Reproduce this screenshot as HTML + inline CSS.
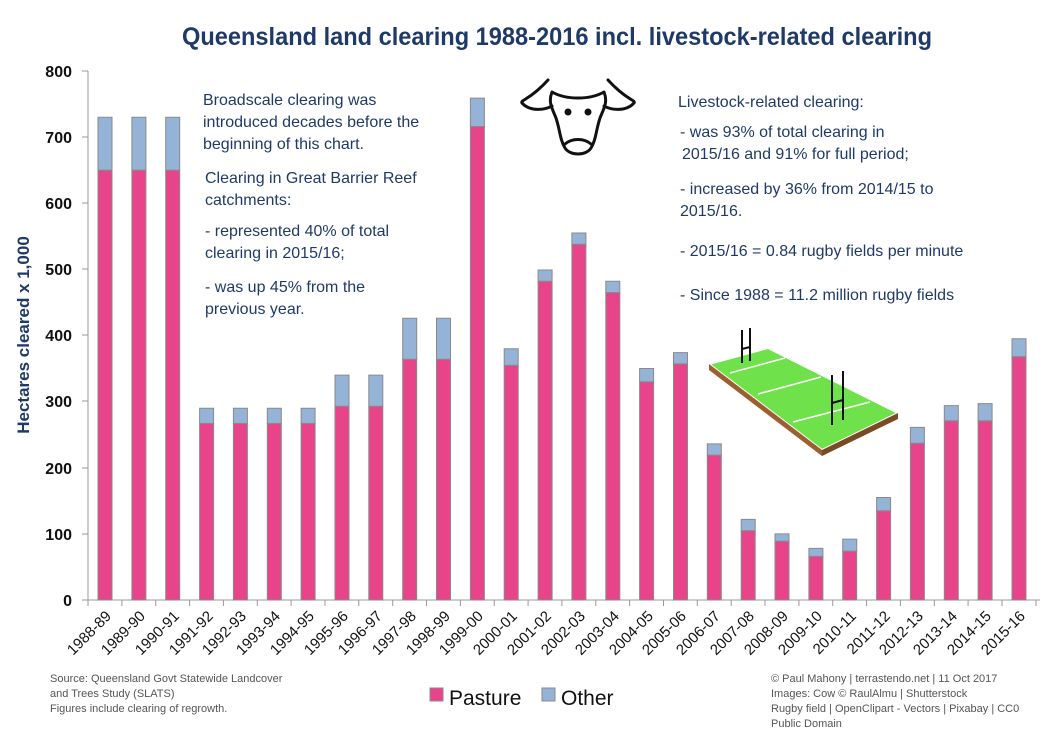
<!DOCTYPE html>
<html><head><meta charset="utf-8"><style>
body{margin:0;background:#fff;}
svg text{font-family:"Liberation Sans",sans-serif;}
</style></head><body>
<svg width="1052" height="739" xmlns="http://www.w3.org/2000/svg">
<rect width="1052" height="739" fill="#fff"/>
<text x="182" y="45" font-size="25" font-weight="bold" fill="#1f3a68" textLength="750" lengthAdjust="spacingAndGlyphs">Queensland land clearing 1988-2016 incl. livestock-related clearing</text>
<line x1="88" y1="71" x2="88" y2="600" stroke="#999"/>
<line x1="88" y1="600" x2="1040" y2="600" stroke="#999"/>
<g stroke="#999">
<line x1="82" y1="600" x2="88" y2="600"/><line x1="82" y1="534" x2="88" y2="534"/><line x1="82" y1="468" x2="88" y2="468"/><line x1="82" y1="401" x2="88" y2="401"/><line x1="82" y1="335" x2="88" y2="335"/><line x1="82" y1="269" x2="88" y2="269"/><line x1="82" y1="203" x2="88" y2="203"/><line x1="82" y1="137" x2="88" y2="137"/><line x1="82" y1="71" x2="88" y2="71"/>
</g>
<g font-size="16" font-weight="bold" fill="#111" text-anchor="end">
<text x="72" y="606">0</text><text x="72" y="540">100</text><text x="72" y="474">200</text><text x="72" y="407">300</text><text x="72" y="341">400</text><text x="72" y="275">500</text><text x="72" y="209">600</text><text x="72" y="143">700</text><text x="72" y="77">800</text>
</g>
<text transform="translate(29,335) rotate(-90)" text-anchor="middle" font-size="17" font-weight="bold" fill="#1f3a68">Hectares cleared x 1,000</text>
<g transform="translate(0,600) scale(1,-0.6613)" stroke="#8a8a8a" stroke-width="1">
<g fill="#e8448a">
<rect x="98" width="14" y="0" height="650" vector-effect="non-scaling-stroke"/>
<rect x="131.9" width="14" y="0" height="650" vector-effect="non-scaling-stroke"/>
<rect x="165.7" width="14" y="0" height="650" vector-effect="non-scaling-stroke"/>
<rect x="199.6" width="14" y="0" height="267" vector-effect="non-scaling-stroke"/>
<rect x="233.4" width="14" y="0" height="267" vector-effect="non-scaling-stroke"/>
<rect x="267.3" width="14" y="0" height="267" vector-effect="non-scaling-stroke"/>
<rect x="301.1" width="14" y="0" height="267" vector-effect="non-scaling-stroke"/>
<rect x="335" width="14" y="0" height="293" vector-effect="non-scaling-stroke"/>
<rect x="368.8" width="14" y="0" height="293" vector-effect="non-scaling-stroke"/>
<rect x="402.7" width="14" y="0" height="364" vector-effect="non-scaling-stroke"/>
<rect x="436.5" width="14" y="0" height="364" vector-effect="non-scaling-stroke"/>
<rect x="470.4" width="14" y="0" height="716" vector-effect="non-scaling-stroke"/>
<rect x="504.2" width="14" y="0" height="355" vector-effect="non-scaling-stroke"/>
<rect x="538.1" width="14" y="0" height="482" vector-effect="non-scaling-stroke"/>
<rect x="571.9" width="14" y="0" height="538" vector-effect="non-scaling-stroke"/>
<rect x="605.8" width="14" y="0" height="465" vector-effect="non-scaling-stroke"/>
<rect x="639.6" width="14" y="0" height="330" vector-effect="non-scaling-stroke"/>
<rect x="673.5" width="14" y="0" height="357" vector-effect="non-scaling-stroke"/>
<rect x="707.3" width="14" y="0" height="219" vector-effect="non-scaling-stroke"/>
<rect x="741.2" width="14" y="0" height="105" vector-effect="non-scaling-stroke"/>
<rect x="775" width="14" y="0" height="89" vector-effect="non-scaling-stroke"/>
<rect x="808.9" width="14" y="0" height="66" vector-effect="non-scaling-stroke"/>
<rect x="842.7" width="14" y="0" height="74" vector-effect="non-scaling-stroke"/>
<rect x="876.6" width="14" y="0" height="135" vector-effect="non-scaling-stroke"/>
<rect x="910.4" width="14" y="0" height="237" vector-effect="non-scaling-stroke"/>
<rect x="944.3" width="14" y="0" height="271" vector-effect="non-scaling-stroke"/>
<rect x="978.1" width="14" y="0" height="271" vector-effect="non-scaling-stroke"/>
<rect x="1012" width="14" y="0" height="368" vector-effect="non-scaling-stroke"/>
</g>
<g fill="#95b3d7">
<rect x="98" width="14" y="650" height="80" vector-effect="non-scaling-stroke"/>
<rect x="131.9" width="14" y="650" height="80" vector-effect="non-scaling-stroke"/>
<rect x="165.7" width="14" y="650" height="80" vector-effect="non-scaling-stroke"/>
<rect x="199.6" width="14" y="267" height="23" vector-effect="non-scaling-stroke"/>
<rect x="233.4" width="14" y="267" height="23" vector-effect="non-scaling-stroke"/>
<rect x="267.3" width="14" y="267" height="23" vector-effect="non-scaling-stroke"/>
<rect x="301.1" width="14" y="267" height="23" vector-effect="non-scaling-stroke"/>
<rect x="335" width="14" y="293" height="47" vector-effect="non-scaling-stroke"/>
<rect x="368.8" width="14" y="293" height="47" vector-effect="non-scaling-stroke"/>
<rect x="402.7" width="14" y="364" height="62" vector-effect="non-scaling-stroke"/>
<rect x="436.5" width="14" y="364" height="62" vector-effect="non-scaling-stroke"/>
<rect x="470.4" width="14" y="716" height="43" vector-effect="non-scaling-stroke"/>
<rect x="504.2" width="14" y="355" height="25" vector-effect="non-scaling-stroke"/>
<rect x="538.1" width="14" y="482" height="17" vector-effect="non-scaling-stroke"/>
<rect x="571.9" width="14" y="538" height="17" vector-effect="non-scaling-stroke"/>
<rect x="605.8" width="14" y="465" height="17" vector-effect="non-scaling-stroke"/>
<rect x="639.6" width="14" y="330" height="20" vector-effect="non-scaling-stroke"/>
<rect x="673.5" width="14" y="357" height="17" vector-effect="non-scaling-stroke"/>
<rect x="707.3" width="14" y="219" height="17" vector-effect="non-scaling-stroke"/>
<rect x="741.2" width="14" y="105" height="17" vector-effect="non-scaling-stroke"/>
<rect x="775" width="14" y="89" height="11" vector-effect="non-scaling-stroke"/>
<rect x="808.9" width="14" y="66" height="12" vector-effect="non-scaling-stroke"/>
<rect x="842.7" width="14" y="74" height="18" vector-effect="non-scaling-stroke"/>
<rect x="876.6" width="14" y="135" height="20" vector-effect="non-scaling-stroke"/>
<rect x="910.4" width="14" y="237" height="24" vector-effect="non-scaling-stroke"/>
<rect x="944.3" width="14" y="271" height="23" vector-effect="non-scaling-stroke"/>
<rect x="978.1" width="14" y="271" height="26" vector-effect="non-scaling-stroke"/>
<rect x="1012" width="14" y="368" height="27" vector-effect="non-scaling-stroke"/>
</g>
</g>
<g stroke="#999">
<line x1="88" y1="600" x2="88" y2="606"/><line x1="121.9" y1="600" x2="121.9" y2="606"/><line x1="155.7" y1="600" x2="155.7" y2="606"/><line x1="189.6" y1="600" x2="189.6" y2="606"/><line x1="223.4" y1="600" x2="223.4" y2="606"/><line x1="257.3" y1="600" x2="257.3" y2="606"/><line x1="291.1" y1="600" x2="291.1" y2="606"/><line x1="325" y1="600" x2="325" y2="606"/><line x1="358.8" y1="600" x2="358.8" y2="606"/><line x1="392.7" y1="600" x2="392.7" y2="606"/><line x1="426.5" y1="600" x2="426.5" y2="606"/><line x1="460.4" y1="600" x2="460.4" y2="606"/><line x1="494.2" y1="600" x2="494.2" y2="606"/><line x1="528.1" y1="600" x2="528.1" y2="606"/><line x1="561.9" y1="600" x2="561.9" y2="606"/><line x1="595.8" y1="600" x2="595.8" y2="606"/><line x1="629.6" y1="600" x2="629.6" y2="606"/><line x1="663.5" y1="600" x2="663.5" y2="606"/><line x1="697.3" y1="600" x2="697.3" y2="606"/><line x1="731.2" y1="600" x2="731.2" y2="606"/><line x1="765" y1="600" x2="765" y2="606"/><line x1="798.9" y1="600" x2="798.9" y2="606"/><line x1="832.7" y1="600" x2="832.7" y2="606"/><line x1="866.6" y1="600" x2="866.6" y2="606"/><line x1="900.4" y1="600" x2="900.4" y2="606"/><line x1="934.3" y1="600" x2="934.3" y2="606"/><line x1="968.1" y1="600" x2="968.1" y2="606"/><line x1="1002" y1="600" x2="1002" y2="606"/><line x1="1036" y1="600" x2="1036" y2="606"/>
</g>
<g font-size="15" fill="#111" text-anchor="end">
<text transform="translate(112,617) rotate(-45)">1988-89</text>
<text transform="translate(146,617) rotate(-45)">1989-90</text>
<text transform="translate(180,617) rotate(-45)">1990-91</text>
<text transform="translate(214,617) rotate(-45)">1991-92</text>
<text transform="translate(247,617) rotate(-45)">1992-93</text>
<text transform="translate(281,617) rotate(-45)">1993-94</text>
<text transform="translate(315,617) rotate(-45)">1994-95</text>
<text transform="translate(349,617) rotate(-45)">1995-96</text>
<text transform="translate(383,617) rotate(-45)">1996-97</text>
<text transform="translate(417,617) rotate(-45)">1997-98</text>
<text transform="translate(451,617) rotate(-45)">1998-99</text>
<text transform="translate(484,617) rotate(-45)">1999-00</text>
<text transform="translate(518,617) rotate(-45)">2000-01</text>
<text transform="translate(552,617) rotate(-45)">2001-02</text>
<text transform="translate(586,617) rotate(-45)">2002-03</text>
<text transform="translate(620,617) rotate(-45)">2003-04</text>
<text transform="translate(654,617) rotate(-45)">2004-05</text>
<text transform="translate(687,617) rotate(-45)">2005-06</text>
<text transform="translate(721,617) rotate(-45)">2006-07</text>
<text transform="translate(755,617) rotate(-45)">2007-08</text>
<text transform="translate(789,617) rotate(-45)">2008-09</text>
<text transform="translate(823,617) rotate(-45)">2009-10</text>
<text transform="translate(857,617) rotate(-45)">2010-11</text>
<text transform="translate(891,617) rotate(-45)">2011-12</text>
<text transform="translate(924,617) rotate(-45)">2012-13</text>
<text transform="translate(958,617) rotate(-45)">2013-14</text>
<text transform="translate(992,617) rotate(-45)">2014-15</text>
<text transform="translate(1026,617) rotate(-45)">2015-16</text>
</g>
<g font-size="16" fill="#1f3a68">
<text x="203" y="105">Broadscale clearing was</text>
<text x="203" y="127">introduced decades before the</text>
<text x="203" y="149">beginning of this chart.</text>
<text x="205" y="183">Clearing in Great Barrier Reef</text>
<text x="205" y="205">catchments:</text>
<text x="205" y="236">- represented 40% of total</text>
<text x="205" y="258">clearing in 2015/16;</text>
<text x="205" y="292">- was up 45% from the</text>
<text x="205" y="314">previous year.</text>
<text x="678" y="107">Livestock-related clearing:</text>
<text x="680" y="137">- was 93% of total clearing in</text>
<text x="682" y="159">2015/16 and 91% for full period;</text>
<text x="680" y="194">- increased by 36% from 2014/15 to</text>
<text x="680" y="216">2015/16.</text>
<text x="680" y="256">- 2015/16 = 0.84 rugby fields per minute</text>
<text x="680" y="300">- Since 1988 = 11.2 million rugby fields</text>
</g>
<g fill="none" stroke="#111" stroke-width="3" stroke-linejoin="round" stroke-linecap="round">
<path d="M548 80 C530 100 520 100 522 103 C530 112 545 110 552 106"/>
<path d="M608 80 C626 100 636 100 634 103 C626 112 611 110 604 106"/>
<path d="M552 92 C548 102 552 108 556 118 C560 130 560 140 565 148 C570 156 586 156 591 148 C596 140 596 130 600 118 C604 108 608 102 604 92 C590 100 566 100 552 92 Z"/>
<circle cx="568" cy="112" r="2" fill="#111"/><circle cx="588" cy="112" r="2" fill="#111"/>
<path d="M565 144 C572 138 584 138 591 144"/>
</g>
<polygon points="709,364 768,348 898,413 822,450" fill="#6fe14a" stroke="#fff" stroke-width="2"/>
<polygon points="709,364 822,450 822,456 709,370" fill="#9b5f32"/>
<polygon points="822,450 898,413 898,419 822,456" fill="#7a4a26"/>
<g stroke="#fff" stroke-width="1.5" fill="none">
<line x1="730" y1="373" x2="785" y2="358"/><line x1="758" y1="394" x2="821" y2="377"/><line x1="793" y1="422" x2="870" y2="402"/>
</g>
<g stroke="#111" stroke-width="2"><line x1="742" y1="330" x2="742" y2="363"/><line x1="750" y1="328" x2="750" y2="361"/><line x1="742" y1="349" x2="750" y2="347"/>
<line x1="832" y1="375" x2="832" y2="425"/><line x1="843" y1="371" x2="843" y2="420"/><line x1="832" y1="403" x2="843" y2="400"/></g>
<g font-size="11" fill="#555">
<text x="50" y="682">Source: Queensland Govt Statewide Landcover</text>
<text x="50" y="697">and Trees Study (SLATS)</text>
<text x="50" y="712">Figures include clearing of regrowth.</text>
<text x="771" y="682">© Paul Mahony | terrastendo.net | 11 Oct 2017</text>
<text x="771" y="697">Images: Cow © RaulAlmu | Shutterstock</text>
<text x="771" y="712">Rugby field | OpenClipart - Vectors | Pixabay | CC0</text>
<text x="771" y="727">Public Domain</text>
</g>
<rect x="430" y="688" width="13" height="13" fill="#e8448a" stroke="#8a8a8a"/>
<text x="449" y="705" font-size="21" fill="#111">Pasture</text>
<rect x="542" y="688" width="13" height="13" fill="#95b3d7" stroke="#8a8a8a"/>
<text x="561" y="705" font-size="21" fill="#111">Other</text>
</svg>
</body></html>
